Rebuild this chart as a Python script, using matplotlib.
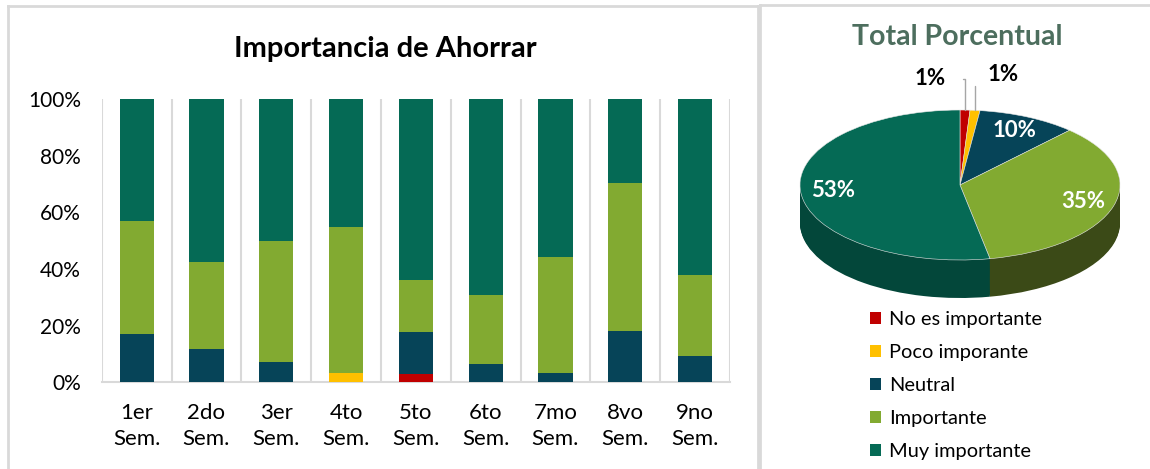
import numpy as np
import matplotlib
matplotlib.use("Agg")
import matplotlib.pyplot as plt
from matplotlib.lines import Line2D
from matplotlib.colors import to_rgb

plt.rcParams['font.family'] = ['Lato', 'DejaVu Sans']

# ---------------- data ----------------
semestres = ["1er\nSem.", "2do\nSem.", "3er\nSem.", "4to\nSem.", "5to\nSem.",
             "6to\nSem.", "7mo\nSem.", "8vo\nSem.", "9no\nSem."]
categorias = ["No es importante", "Poco imporante", "Neutral", "Importante", "Muy importante"]
no_es      = [0, 0, 0, 0, 2.9, 0, 0, 0, 0]
poco       = [0, 0, 0, 3.2, 0, 0, 0, 0, 0]
neutral    = [17.0, 11.9, 7.3, 0, 15.0, 6.6, 3.4, 18.2, 9.3]
importante = [40.0, 30.5, 42.6, 51.7, 18.4, 24.2, 41.0, 52.2, 28.6]
muy        = [43.0, 57.6, 50.1, 45.1, 63.7, 69.2, 55.6, 29.6, 62.1]
total_pct  = [1, 1, 10, 35, 53]
colores = ["#C00000", "#FFC000", "#064458", "#82AA31", "#056A55"]

W, H = 1150, 469
fig = plt.figure(figsize=(W / 100, H / 100), dpi=100)

def fx(px):
    return px / W

def fy(py):
    return 1 - py / H

# ---------------- panel borders ----------------
bc = "#D9D9D9"
for (x0, y0, x1, y1) in [(8, 6, 8, 469), (8, 6, 758, 6), (758, 6, 758, 469),
                         (760, 5, 760, 469), (760, 5, 1150, 5)]:
    fig.add_artist(Line2D([fx(x0), fx(x1)], [fy(y0), fy(y1)], color=bc, lw=2))

# ---------------- bar chart ----------------
ax = fig.add_axes([fx(101.7), fy(382.3), fx(730) - fx(101.7), (382.3 - 99.3) / H])
series = [no_es, poco, neutral, importante, muy]
x = np.arange(len(semestres))
bottom = np.zeros(len(semestres))
handles = []
for vals, col, lab in zip(series, colores, categorias):
    v = np.array(vals, dtype=float)
    b = ax.bar(x, v, width=0.49, bottom=bottom, color=col, label=lab, zorder=3)
    handles.append(b)
    bottom += v
ax.set_xlim(-0.5, len(semestres) - 0.5)
ax.set_ylim(0, 100)
ax.set_yticks(np.arange(0, 101, 20))
ax.set_yticklabels([f"{t}%" for t in range(0, 101, 20)])
ax.set_xticks(x)
ax.set_xticklabels(semestres, linespacing=1.38)
ax.set_xticks(np.arange(-0.5, len(semestres)), minor=True)
ax.grid(which='minor', axis='x', color=bc, lw=1.5, zorder=0)
ax.tick_params(which='both', length=0)
ax.tick_params(axis='y', labelsize=15, pad=15, colors='#000000')
ax.tick_params(axis='x', labelsize=16, pad=15)
for s in ['left', 'right', 'top']:
    ax.spines[s].set_visible(False)
ax.spines['bottom'].set_color(bc)
ax.spines['bottom'].set_linewidth(1.5)

fig.text(fx(385), fy(49), "Importancia de Ahorrar", ha='center', va='center',
         fontsize=21, fontweight='bold')

# ---------------- 3D-looking pie ----------------
fig.text(fx(957), fy(37), "Total Porcentual", ha='center', va='center',
         fontsize=20.5, fontweight='bold', color="#4D6E5E")

# pixel geometry: centre (960,185), rx 160, ry 75, depth 38
cx, cy, rx, ry, depth = 960, 185, 160, 75, 38
mx, my = 20, 10
pax = fig.add_axes([fx(cx - rx - mx), fy(cy + ry + depth + my),
                    (2 * rx + 2 * mx) / W, (2 * ry + depth + 2 * my) / H])
pax.axis('off')

def darker(c, f):
    r, g, b = to_rgb(c)
    return (r * f, g * f, b * f)

side_cols = [darker(c, 0.55) for c in colores]
side_cols[3] = "#3B4A17"
side_cols[4] = "#03473A"
nlayers = 40
d_units = depth / ry
for k in range(nlayers, 0, -1):
    off = d_units * k / nlayers
    pax.pie(total_pct, colors=side_cols, startangle=90, counterclock=False,
            center=(0, -off), radius=1, wedgeprops=dict(linewidth=0))

wedges, texts, autotexts = pax.pie(
    total_pct, colors=colores, startangle=90, counterclock=False,
    radius=1, autopct='%.0f%%', pctdistance=0.8,
    wedgeprops=dict(linewidth=0.4, edgecolor='#E8E8E8'),
    textprops=dict(color='white', fontsize=16, fontweight='bold'))
pax.set_aspect('auto')
pax.set_xlim(-1 - mx / rx, 1 + mx / rx)
pax.set_ylim(-1 - (depth + my) / ry, 1 + my / ry)

# small slices: outside labels with leader lines
lab_pos = [(-0.19, 1.42), (0.27, 1.48)]
anchor_x = []
for w in wedges[:2]:
    ang = np.deg2rad((w.theta1 + w.theta2) / 2)
    anchor_x.append((np.cos(ang), np.sin(ang)))
for t, (lx, ly), (axp, ayp) in zip(autotexts[:2], lab_pos, anchor_x):
    t.set_visible(False)
    pax.annotate(t.get_text(), xy=(axp, ayp), xytext=(lx, ly),
                 ha='center', va='center', fontsize=16, fontweight='bold', color='black',
                 annotation_clip=False,
                 arrowprops=dict(arrowstyle='-', color='#A6A6A6', lw=1,
                                 shrinkA=11, shrinkB=0,
                                 connectionstyle="angle,angleA=0,angleB=90,rad=0"))

# ---------------- legend ----------------
fig.legend(handles=handles, labels=categorias, loc='upper left',
           bbox_to_anchor=(fx(870), fy(311)), frameon=False, fontsize=14.4,
           handlelength=0.55, handleheight=0.55, handletextpad=0.4,
           labelspacing=0.8, borderpad=0, borderaxespad=0)

fig.savefig("out.png", dpi=100)
